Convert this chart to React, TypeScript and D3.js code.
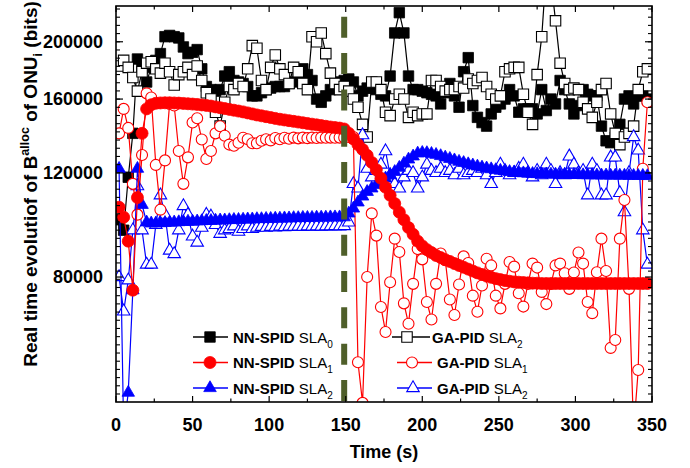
import React from "react";
import * as d3 from "d3";

// Sample times (s) shared by all series
const times: number[] = d3.range(2, 348, 3);

const xTickValues = [0, 50, 100, 150, 200, 250, 300, 350];
const yTickLabels = [80000, 120000, 160000, 200000];
const switchTime = 149;

// Values in thousands of bits
const nnSla0 = [
  100, 96, 118, 140, 187, 180, 171, 181, 186, 191,
  204, 205, 204, 203, 196, 191, 192, 194, 180, 168,
  166, 165, 166, 175, 178, 172, 171, 170, 168, 162,
  162, 164, 166, 167, 168, 168, 168, 170, 171, 173,
  180, 176, 172, 160, 158, 162, 166, 170, 171, 172,
  173, 171, 162, 165, 167, 167, 166, 163, 162, 175,
  207, 224, 207, 175, 166, 166, 165, 164, 163, 162,
  157, 164, 170, 162, 155, 178, 188, 156, 149, 146,
  144, 151, 155, 157, 160, 166, 162, 152, 154, 154,
  154, 151, 166, 153, 160, 157, 172, 166, 157, 151,
  156, 166, 163, 162, 162, 144, 136, 135, 138, 145,
  160, 162, 157, 162, 162, 160,
];

const gaSla2Square = [
  182, 186, 181, 174, 165, 178, 184, 185, 180, 177,
  184, 178, 169, 176, 178, 181, 176, 182, 172, 164,
  160, 152, 144, 158, 168, 166, 170, 168, 180, 197,
  195, 172, 166, 181, 190, 180, 176, 170, 181, 178,
  170, 166, 204, 200, 207, 191, 177, 170, 166, 168,
  165, 160, 155, 145, 138, 171, 171, 166, 152, 150,
  160, 163, 160, 149, 152, 150, 151, 151, 172, 172,
  168, 165, 166, 166, 168, 167, 173, 170, 172, 174,
  168, 163, 160, 162, 178, 180, 181, 181, 163, 152,
  145, 176, 204, 265, 255, 217, 184, 170, 166, 167,
  166, 158, 154, 149, 158, 166, 170, 151, 140, 134,
  138, 140, 144, 166, 178, 180,
];

const nnSla1 = [
  105, 101, 92, 76, 109, 140, 154, 156.5, 157.4, 157.6,
  157.7, 157.7, 157.6, 157.5, 157.3, 157.1, 156.9, 156.7, 156.4, 156.1,
  155.7, 155.2, 154.7, 154.2, 153.7, 153.2, 152.7, 152.2, 151.6, 151.0,
  150.4, 149.9, 149.4, 148.9, 148.4, 147.9, 147.5, 147.1, 146.7, 146.3,
  145.9, 145.5, 145.1, 144.7, 144.3, 143.9, 143.5, 143.2, 142.9, 142.4,
  140, 137, 134, 131.5, 128.5, 125, 121.5, 117.5, 113.5, 110,
  106.5, 103, 100, 97, 94.5, 92, 90.3, 89, 88, 87,
  86.3, 85.6, 85, 84.3, 83.7, 83.1, 82.5, 81.9, 81.3, 80.8,
  80.3, 79.9, 79.5, 79.2, 78.9, 78.7, 78.5, 78.4, 78.3, 78.2,
  78.1, 78.1, 78.0, 78.0, 78.0, 78.0, 78.0, 78.0, 78.0, 78.0,
  78.0, 78.0, 78.0, 78.0, 78.0, 78.0, 78.0, 78.0, 78.0, 78.0,
  78.0, 78.0, 78.0, 78.0, 78.0, 78.0,
];

const gaSla1 = [
  140, 154, 143, 115, 102, 128.7, 163.6, 161, 123.8, 104,
  126, 157, 156, 130.7, 115, 127.5, 146, 148.5, 136.7, 126.7,
  130.7, 140, 143.9, 138.7, 134, 133.4, 135, 137.6, 136.8, 134.7,
  134.7, 136, 136.8, 136.2, 137.5, 136.8, 137.6, 137.1, 137.7, 137.3,
  137.7, 137.4, 137.7, 137.5, 137.7, 137.6, 137.7, 137.6, 137.7, 137.7,
  138, 138, 57.4, 49, 80, 102.5, 94, 71.2, 64.6, 78.4,
  92.9, 88.2, 72.2, 66.7, 77.9, 89.2, 85.7, 72.6, 67.8, 77.9,
  87.7, 85.4, 73.3, 69, 77.7, 86.7, 84.5, 74.4, 69.9, 77.4,
  85.9, 83.7, 74.4, 70.8, 77.9, 84.8, 83.3, 75.1, 71.3, 77.9,
  84.3, 83, 75.5, 72, 77.9, 83.7, 84.3, 81.2, 76.4, 81.4,
  88, 84.3, 72.6, 69.5, 81.5, 92.9, 81.9, 60.7, 62.6, 92.9,
  108, 76.4, 44, 55.7, 122, 158,
];

const nnSla2 = [
  122, 44, 51, 76, 122, 106, 99, 98.6, 98.6, 98.7,
  98.8, 98.9, 99, 99.1, 99.2, 99.3, 99.3, 99.4, 99.5, 99.6,
  99.6, 99.7, 99.8, 99.8, 99.9, 100, 100, 100.1, 100.2, 100.2,
  100.3, 100.3, 100.4, 100.4, 100.5, 100.5, 100.6, 100.6, 100.7, 100.7,
  100.8, 100.8, 100.8, 100.9, 100.9, 100.9, 101, 101, 101, 101,
  102.5, 104.5, 107, 109.5, 111.5, 113, 114.5, 116, 117.5, 119,
  120.5, 122.5, 124.5, 126.5, 128, 129.5, 129.8, 129.7, 129.3, 128.8,
  128.2, 127.5, 126.8, 126.1, 125.4, 124.8, 124.2, 123.6, 123.1, 122.6,
  122.2, 121.8, 121.4, 121.1, 120.8, 120.5, 120.3, 120.1, 119.9, 119.7,
  119.6, 119.5, 119.4, 119.4, 119.3, 119.3, 119.2, 119.2, 119.1, 119.1,
  119.1, 119, 119, 119, 118.9, 118.9, 118.9, 118.8, 118.8, 118.8,
  118.8, 118.7, 118.7, 118.7, 118.7, 118.6,
];

const gaSla2Triangle = [
  80, 70, 79, 96, 114, 96, 84, 84, 98, 110,
  102, 88.7, 87.5, 96, 105.5, 102, 93.7, 91.5, 97, 102,
  101.3, 98, 94.7, 96, 96.5, 97.5, 95.5, 96.5, 97.5, 96.5,
  97, 97.3, 97, 97.3, 97.1, 97.4, 97.2, 97.4, 97.3, 97.4,
  97.3, 97.5, 97.4, 97.5, 97.4, 97.5, 97.5, 97.6, 97.5, 97.6,
  99, 115, 113, 139, 122, 118, 121, 124, 130.6, 119,
  115, 113, 118, 121, 120, 113, 118, 124, 121, 120,
  122, 120, 121, 119, 122, 119, 120, 121, 120, 122,
  119, 115, 120, 124, 121, 119, 120, 122, 124, 120,
  118, 121, 119, 124, 121, 115, 120, 119, 128, 124,
  120, 121, 110, 124, 121, 110, 110, 127.5, 127.5, 111,
  103, 120, 138, 131, 96, 84,
];

type Marker = "square" | "circle" | "triangle";
interface Series {
  key: string;
  values: number[];
  color: string;
  marker: Marker;
  filled: boolean;
}

// drawing order (bottom to top)
const seriesList: Series[] = [
  { key: "nn0", values: nnSla0, color: "#000000", marker: "square", filled: true },
  { key: "ga2s", values: gaSla2Square, color: "#000000", marker: "square", filled: false },
  { key: "ga2t", values: gaSla2Triangle, color: "#0000FF", marker: "triangle", filled: false },
  { key: "ga1", values: gaSla1, color: "#FF0000", marker: "circle", filled: false },
  { key: "nn2", values: nnSla2, color: "#0000FF", marker: "triangle", filled: true },
  { key: "nn1", values: nnSla1, color: "#FF0000", marker: "circle", filled: true },
];

const FONT = "'Liberation Sans', Arial, Helvetica, sans-serif";

const squarePath = d3.symbol().type(d3.symbolSquare).size(110)() as string;
const trianglePath = d3.symbol().type(d3.symbolTriangle).size(68)() as string;

function MarkerShape({ m, cx, cy, color, filled }: { m: Marker; cx: number; cy: number; color: string; filled: boolean }) {
  const fill = filled ? color : "#FFFFFF";
  const sw = filled ? 0.8 : 1.1;
  if (m === "circle") {
    return <circle cx={cx} cy={cy} r={filled ? 6 : 5.5} fill={fill} stroke={color} strokeWidth={sw} />;
  }
  const p = m === "square" ? squarePath : trianglePath;
  return <path d={p} transform={`translate(${cx},${cy})`} fill={fill} stroke={color} strokeWidth={sw} />;
}

export default function App() {
  const left = 116, right = 652, top = 6, bottom = 402;
  const x = d3.scaleLinear().domain([0, 350]).range([left, right]);
  const y = d3.scaleLog().domain([49170, 229900]).range([bottom, top]);

  const lineGen = d3
    .line<number>()
    .x((_, i) => x(times[i]))
    .y((d) => y(d * 1000));

  const xMinor = d3.range(0, 351, 25);
  const logStep = 0.013855;
  const yMinor = d3.range(-43, 5).map((n) => Math.pow(10, Math.log10(200000) + n * logStep));

  const sx = x(switchTime);

  const legendLeft = [
    { m: "square" as Marker, color: "#000000", sub: "0", y: 337 },
    { m: "circle" as Marker, color: "#FF0000", sub: "1", y: 362.5 },
    { m: "triangle" as Marker, color: "#0000FF", sub: "2", y: 388 },
  ];
  const legendRight = [
    { m: "square" as Marker, color: "#000000", sub: "2", y: 337, x0: 392, x1: 430, mx: 407, tx: 432 },
    { m: "circle" as Marker, color: "#FF0000", sub: "1", y: 362.5, x0: 397, x1: 432, mx: 412, tx: 437 },
    { m: "triangle" as Marker, color: "#0000FF", sub: "2", y: 388, x0: 397, x1: 432, mx: 413, tx: 437 },
  ];

  return (
    <svg
      width={690}
      height={468}
      viewBox="0 0 690 468"
      style={{ position: "absolute", left: 0, top: 0, background: "#FFFFFF" }}
      fontFamily={FONT}
    >
      <defs>
        <clipPath id="plotClip">
          <rect x={left} y={top} width={right - left} height={bottom - top} />
        </clipPath>
      </defs>
      <rect x={0} y={0} width={690} height={468} fill="#FFFFFF" />

      <g clipPath="url(#plotClip)">
        {seriesList.map((s) => (
          <g key={s.key}>
            <path d={lineGen(s.values) || ""} fill="none" stroke={s.color} strokeWidth={1.2} />
            {s.values.map((v, i) => (
              <MarkerShape key={i} m={s.marker} cx={x(times[i])} cy={y(v * 1000)} color={s.color} filled={s.filled} />
            ))}
          </g>
        ))}
        <line
          x1={sx}
          x2={sx}
          y1={top}
          y2={bottom}
          stroke="#4F5F2A"
          strokeWidth={6}
          strokeDasharray="21,15.33"
          strokeDashoffset={25.6}
        />
      </g>

      {/* frame */}
      <rect x={left} y={top} width={right - left} height={bottom - top} fill="none" stroke="#000" strokeWidth={1.6} />

      {/* x ticks bottom & top */}
      {xMinor.map((t) => {
        const major = t % 50 === 0;
        const len = major ? 6 : 3.5;
        return (
          <g key={`xt${t}`}>
            <line x1={x(t)} x2={x(t)} y1={bottom} y2={bottom - len} stroke="#000" strokeWidth={1.2} />
            <line x1={x(t)} x2={x(t)} y1={top} y2={top + len} stroke="#000" strokeWidth={1.2} />
          </g>
        );
      })}
      {/* y ticks left & right */}
      {yMinor.map((v, i) => (
        <g key={`ym${i}`}>
          <line x1={left} x2={left + 4} y1={y(v)} y2={y(v)} stroke="#000" strokeWidth={1.1} />
          <line x1={right} x2={right - 4} y1={y(v)} y2={y(v)} stroke="#000" strokeWidth={1.1} />
        </g>
      ))}
      {yTickLabels.map((v) => (
        <g key={`yM${v}`}>
          <line x1={left} x2={left + 7} y1={y(v)} y2={y(v)} stroke="#000" strokeWidth={1.2} />
          <line x1={right} x2={right - 7} y1={y(v)} y2={y(v)} stroke="#000" strokeWidth={1.2} />
          <text x={103} y={y(v)} dy="0.35em" textAnchor="end" fontSize={18} fontWeight="bold" fill="#000">
            {v}
          </text>
        </g>
      ))}
      {xTickValues.map((t) => (
        <text key={`xl${t}`} x={x(t)} y={431} textAnchor="middle" fontSize={18} fontWeight="bold" fill="#000">
          {t}
        </text>
      ))}

      {/* axis titles */}
      <text x={384} y={458} textAnchor="middle" fontSize={18} fontWeight="bold" fill="#000">
        Time (s)
      </text>
      <text
        transform="translate(37,184) rotate(-90)"
        textAnchor="middle"
        fontSize={19}
        fontWeight="bold"
        fill="#000"
      >
        <tspan>Real time evolutiof of B</tspan>
        <tspan fontSize={12.5} dy={-8}>alloc</tspan>
        <tspan dy={8}> of ONU</tspan>
        <tspan fontSize={12.5} dy={5}>i</tspan>
        <tspan dy={-5}> (bits)</tspan>
      </text>

      {/* legend */}
      {legendLeft.map((l) => (
        <g key={`ll${l.sub}${l.y}`}>
          <line x1={193} x2={228} y1={l.y} y2={l.y} stroke={l.color} strokeWidth={1.5} />
          <MarkerShape m={l.m} cx={210} cy={l.y} color={l.color} filled={true} />
          <text x={233} y={l.y + 5.5} fontSize={15} fill="#000">
            <tspan fontWeight="bold">NN-SPID</tspan>
            <tspan> SLA</tspan>
            <tspan fontSize={10} dy={5}>{l.sub}</tspan>
          </text>
        </g>
      ))}
      {legendRight.map((l) => (
        <g key={`lr${l.sub}${l.y}`}>
          <line x1={l.x0} x2={l.x1} y1={l.y} y2={l.y} stroke={l.color} strokeWidth={1.5} />
          <MarkerShape m={l.m} cx={l.mx} cy={l.y} color={l.color} filled={false} />
          <text x={l.tx} y={l.y + 5.5} fontSize={15} fill="#000">
            <tspan fontWeight="bold">GA-PID</tspan>
            <tspan> SLA</tspan>
            <tspan fontSize={10} dy={5}>{l.sub}</tspan>
          </text>
        </g>
      ))}
    </svg>
  );
}
